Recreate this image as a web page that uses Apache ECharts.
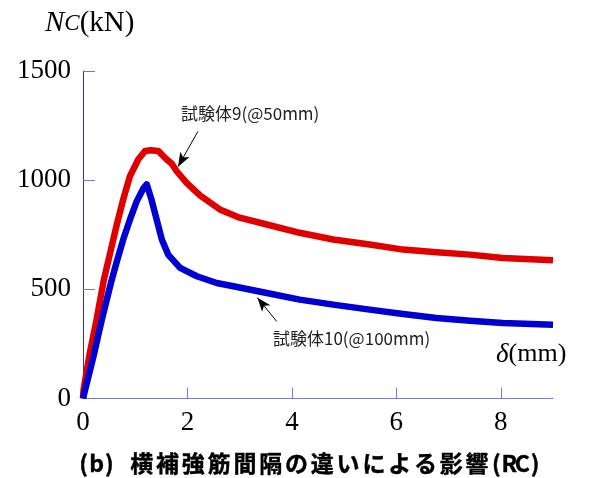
<!DOCTYPE html>
<html>
<head>
<meta charset="utf-8">
<script src="https://cdn.jsdelivr.net/npm/echarts@6/dist/echarts.min.js"></script>
<style>html,body{margin:0;padding:0;background:#fff}#c{width:602px;height:478px}</style>
</head>
<body>
<div id="c"></div>
<script>
// Specimen 9 (@50mm) load-displacement curve [δ (mm), Nc (kN)]
const specimen9 = [
  [0,0],[0.01,39],[0.13,208],[0.26,361],[0.40,545],[0.52,667],[0.64,790],[0.77,912],
  [0.90,1019],[1.06,1096],[1.19,1134],[1.30,1137],[1.44,1134],[1.60,1096],[1.70,1075],
  [1.79,1042],[1.98,989],[2.24,930],[2.62,866],[3.0,828],[3.52,797],[4.15,759],
  [4.79,728],[5.49,705],[6.13,682],[6.77,670],[7.41,659],[8.04,644],[9.0,633]
];
// Specimen 10 (@100mm)
const specimen10 = [
  [0,0],[0.20,192],[0.36,361],[0.53,525],[0.64,621],[0.77,728],[0.90,820],[1.03,904],
  [1.15,960],[1.22,981],[1.31,912],[1.41,820],[1.51,728],[1.63,659],[1.86,598],
  [2.18,560],[2.56,529],[2.88,514],[3.52,483],[4.15,453],[4.79,430],[5.49,407],
  [6.13,387],[6.77,369],[7.41,356],[8.04,346],[9.0,338]
];
const xTicks = [0,2,4,6,8];
const yTicks = [0,500,1000,1500];
const label9 = '試験体9(@50mm)';
const label10 = '試験体10(@100mm)';
const arrow9 = [[2.2,1223],[1.82,1062]];
const arrow10 = [[3.71,353],[3.34,462]];
const caption = '(b) 横補強筋間隔の違いによる影響(RC)';

const chart = echarts.init(document.getElementById('c'));

// caption: monospaced-like layout, one text per character
const capFull = 25.8, capHalf = 12.9;
let cx = 77.2;
const capEls = [];
for (const ch of caption) {
  const w = ch.charCodeAt(0) > 255 ? capFull : capHalf;
  capEls.push({
    type: 'text', x: cx + w / 2, y: 463,
    style: { text: ch, font: 'bold 23px "Noto Sans CJK JP"', fill: '#000', align: 'center', verticalAlign: 'middle',
      stroke: '#000', lineWidth: 0.4 }
  });
  cx += w;
}

const serif = '"Liberation Serif", "Times New Roman", serif';

chart.setOption({
  animation: false,
  backgroundColor: '#fff',
  grid: { left: 83, right: 49, top: 71, bottom: 79.5 },
  xAxis: {
    type: 'value', min: 0, max: 9, interval: 2,
    axisLine: { lineStyle: { color: '#7878e8', width: 1 } },
    axisTick: { inside: true, length: 11, lineStyle: { color: '#7878e8' } },
    axisLabel: { fontFamily: serif, fontSize: 27, color: '#000', margin: 11,
      formatter: v => xTicks.includes(v) ? String(v) : '' , showMaxLabel: false},
    splitLine: { show: false }
  },
  yAxis: {
    type: 'value', min: 0, max: 1500, interval: 500,
    axisLine: { show: true, lineStyle: { color: '#2a2ad0', width: 1 } },
    axisTick: { show: true, inside: true, length: 12, lineStyle: { color: '#7070e0' } },
    axisLabel: { fontFamily: serif, fontSize: 27, color: '#000', margin: 12,
      padding: [0, 0, 10, 0],
      formatter: v => yTicks.includes(v) ? String(v) : '' },
    splitLine: { show: false }
  },
  series: [
    {
      type: 'line', data: specimen9, symbol: 'none', smooth: false,
      lineStyle: { color: '#e00000', width: 6.5, join: 'round' },
      markLine: {
        silent: true, symbol: ['none', 'arrow'], symbolSize: [8, 14],
        label: { show: false },
        lineStyle: { color: '#000', width: 1, type: 'solid' },
        data: [[{ coord: arrow9[0] }, { coord: arrow9[1] }]]
      }
    },
    {
      type: 'line', data: specimen10, symbol: 'none', smooth: false,
      lineStyle: { color: '#0000d0', width: 6.5, join: 'round' },
      markLine: {
        silent: true, symbol: ['none', 'arrow'], symbolSize: [8, 14],
        label: { show: false },
        lineStyle: { color: '#000', width: 1, type: 'solid' },
        data: [[{ coord: arrow10[0] }, { coord: arrow10[1] }]]
      }
    }
  ],
  graphic: [
    {
      type: 'text', x: 45, y: 38,
      style: {
        text: '{n|N}{c|C}{u|(kN)}', verticalAlign: 'bottom',
        rich: {
          n: { fontFamily: serif, fontStyle: 'italic', fontSize: 29, fill: '#000' },
          c: { fontFamily: serif, fontStyle: 'italic', fontSize: 23, fill: '#000' },
          u: { fontFamily: serif, fontSize: 29, fill: '#000' }
        }
      }
    },
    {
      type: 'text', x: 496, y: 368,
      style: {
        text: '{d|δ}{u|(mm)}', verticalAlign: 'bottom',
        rich: {
          d: { fontFamily: serif, fontStyle: 'italic', fontSize: 27, fill: '#000' },
          u: { fontFamily: serif, fontSize: 26, fill: '#000' }
        }
      }
    },
    {
      type: 'text', x: 181, y: 114,
      style: { text: label9, font: '17px "Noto Sans CJK JP"', fill: '#222', verticalAlign: 'middle' }
    },
    {
      type: 'text', x: 273, y: 339,
      style: { text: label10, font: '17px "Noto Sans CJK JP"', fill: '#222', verticalAlign: 'middle' }
    },
    ...capEls
  ]
});
</script>
</body>
</html>
